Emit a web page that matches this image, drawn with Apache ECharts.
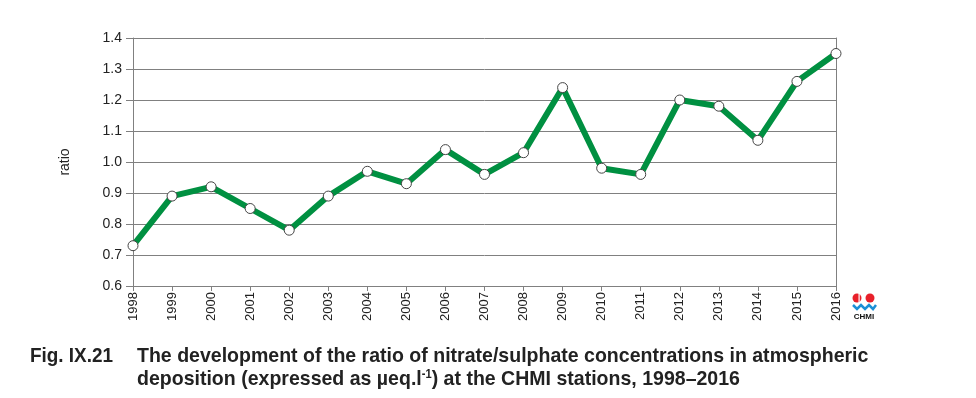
<!DOCTYPE html>
<html>
<head>
<meta charset="utf-8">
<script src="https://cdn.jsdelivr.net/npm/echarts@6/dist/echarts.min.js"></script>
<style>
html, body {margin: 0; padding: 0; background: #fff;}
#chart {width: 976px; height: 398px;}
</style>
</head>
<body>
<div id="chart"></div>
<script>
var years = ['1998', '1999', '2000', '2001', '2002', '2003', '2004', '2005', '2006', '2007',
    '2008', '2009', '2010', '2011', '2012', '2013', '2014', '2015', '2016'];
var ratios = [0.73, 0.89, 0.92, 0.85, 0.78, 0.89, 0.97, 0.93, 1.04, 0.96,
    1.03, 1.24, 0.98, 0.96, 1.20, 1.18, 1.07, 1.26, 1.35];
var yTicks = {min: 0.6, max: 1.4, interval: 0.1};

var chart = echarts.init(document.getElementById('chart'));
var axisGray = '#808080';
var capFont = '"Liberation Sans", Arial, sans-serif';

chart.setOption({
    animation: false,
    grid: {left: 133, right: 140, top: 38, bottom: 112},
    xAxis: {
        type: 'category',
        boundaryGap: false,
        data: years,
        axisLine: {lineStyle: {color: axisGray, width: 1}},
        axisTick: {alignWithLabel: true, length: 5, lineStyle: {color: axisGray}},
        axisLabel: {rotate: 90, color: '#222', fontSize: 13, fontFamily: 'Liberation Sans, Arial', margin: 6, interval: 0}
    },
    yAxis: [{
        type: 'value',
        min: yTicks.min,
        max: yTicks.max,
        interval: yTicks.interval,
        name: 'ratio',
        nameLocation: 'middle',
        nameGap: 61,
        nameRotate: 90,
        nameTextStyle: {color: '#222', fontSize: 14, fontFamily: 'Liberation Sans, Arial'},
        axisLine: {show: true, lineStyle: {color: axisGray}},
        axisTick: {show: true, length: 7, lineStyle: {color: axisGray}},
        axisLabel: {
            color: '#222', fontSize: 14, fontFamily: 'Liberation Sans, Arial', margin: 11,
            formatter: function(v) { return v.toFixed(1); }
        },
        splitLine: {lineStyle: {color: axisGray, width: 1}}
    }, {
        type: 'value',
        min: yTicks.min,
        max: yTicks.max,
        interval: yTicks.interval,
        position: 'right',
        axisLine: {show: true, lineStyle: {color: axisGray}},
        axisTick: {show: false},
        axisLabel: {show: false},
        splitLine: {show: false}
    }],
    series: [{
        name: 'ratio',
        type: 'line',
        data: ratios,
        lineStyle: {color: '#009041', width: 6},
        itemStyle: {color: '#fff', borderColor: '#444', borderWidth: 1},
        symbol: 'circle',
        symbolSize: 10,
        showAllSymbol: true
    }],
    graphic: [
        // CHMI logo
        {type: 'circle', shape: {cx: 857, cy: 298, r: 4.5}, style: {fill: '#e8202a'}},
        {type: 'circle', shape: {cx: 870, cy: 298, r: 4.5}, style: {fill: '#e8202a'}},
        {type: 'rect', shape: {x: 858.5, y: 293, width: 1.2, height: 10}, style: {fill: '#fff'}, z: 10},
        {type: 'polyline', shape: {points: [[853, 305], [857, 309], [861, 305], [865, 309], [869, 305], [873, 309], [876, 305]]},
            style: {stroke: '#1c8fd6', lineWidth: 2.5, fill: null}},
        {type: 'text', x: 864, y: 313, style: {text: 'CHMI', fill: '#111', font: 'bold 8px "Liberation Sans", Arial', align: 'center', verticalAlign: 'top'}},
        // caption
        {type: 'text', x: 30, y: 346, scaleX: 0.9, style: {text: 'Fig. IX.21', fill: '#222', font: 'bold 21px ' + capFont}},
        {type: 'text', x: 137, y: 346, scaleX: 0.93, style: {text: 'The development of the ratio of nitrate/sulphate concentrations in atmospheric', fill: '#222', font: 'bold 21px ' + capFont}},
        {type: 'text', x: 137, y: 369, scaleX: 0.93, style: {
            text: 'deposition (expressed as µeq.l{sup|-1}) at the CHMI stations, 1998–2016',
            fill: '#222', font: 'bold 21px ' + capFont,
            rich: {sup: {fontSize: 12, fontWeight: 'bold', fontFamily: capFont, fill: '#222', verticalAlign: 'top', padding: [0, 0, 9, 0]}}
        }}
    ]
});
</script>
</body>
</html>
